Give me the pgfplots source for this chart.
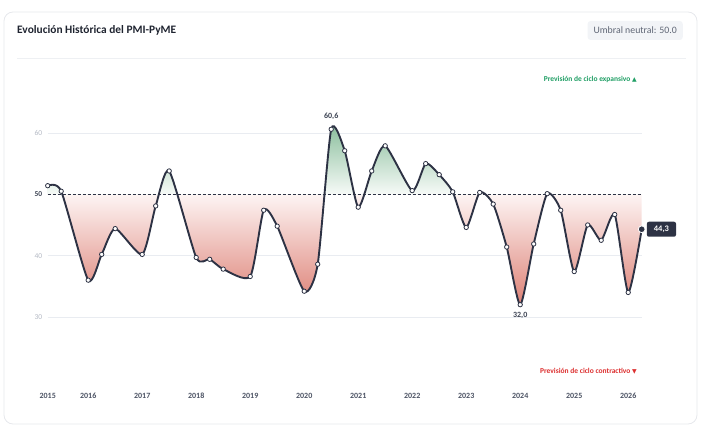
\documentclass[border=0pt]{standalone}
\usepackage{pgfplots}
\pgfplotsset{compat=1.18}
\usepackage{pgfplotstable}
\usepackage{fontspec}
\setmainfont{Carlito}
\newfontfamily\symfont{DejaVu Sans}
\definecolor{linec}{HTML}{2D3244}
\definecolor{gridc}{HTML}{E9ECF1}
\definecolor{ylabc}{HTML}{B4B9C4}
\definecolor{yearc}{HTML}{4B5263}
\definecolor{titlec}{HTML}{1F2430}
\definecolor{greenc}{HTML}{1F9E64}
\definecolor{redc}{HTML}{DC2F2F}
\definecolor{boxbg}{HTML}{F2F4F7}
\definecolor{boxtext}{HTML}{5F6675}
\definecolor{cardc}{HTML}{E6E8EC}
\definecolor{sepc}{HTML}{EEF0F3}
\definecolor{annc}{HTML}{3B4252}
\definecolor{greenhi}{HTML}{7FB893}
\definecolor{greenlo}{HTML}{F6FAF7}
\definecolor{redhi}{HTML}{DD8176}
\definecolor{redlo}{HTML}{FDF4F3}
\pgfdeclareverticalshading{pmishade}{100bp}{color(0bp)=(redhi); color(25bp)=(redhi); color(54.4bp)=(redlo); color(54.6bp)=(greenlo); color(75bp)=(greenhi); color(100bp)=(greenhi)}

\pgfplotstableread{
x y base
2015.25 51.4 50
2015.5 50.5 50
2016.0 36.0 50
2016.25 40.2 50
2016.5 44.4 50
2017.0 40.2 50
2017.25 48.1 50
2017.5 53.8 50
2018.0 39.7 50
2018.25 39.4 50
2018.5 37.8 50
2019.0 36.6 50
2019.25 47.4 50
2019.5 44.8 50
2020.0 34.2 50
2020.25 38.6 50
2020.5 60.6 50
2020.75 57.1 50
2021.0 47.9 50
2021.25 53.8 50
2021.5 57.9 50
2022.0 50.6 50
2022.25 55.0 50
2022.5 53.2 50
2022.75 50.4 50
2023.0 44.6 50
2023.25 50.3 50
2023.5 48.4 50
2023.75 41.4 50
2024.0 32.0 50
2024.25 41.9 50
2024.5 50.1 50
2024.75 47.4 50
2025.0 37.4 50
2025.25 45.0 50
2025.5 42.5 50
2025.75 46.7 50
2026.0 34.0 50
2026.25 44.3 50
}\pmidata

\begin{document}
\begin{tikzpicture}[x=1pt,y=1pt]
\draw[cardc, line width=0.8pt, rounded corners=9pt] (4,-12) rectangle (697,-424);
\node[anchor=west, font=\bfseries\fontsize{11.4}{13}\selectfont, text=titlec, inner sep=0pt] at (17,-30.5) {Evolución Histórica del PMI-PyME};
\node[fill=boxbg, rounded corners=3pt, anchor=east, font=\fontsize{9.8}{11}\selectfont, text=boxtext, minimum height=19pt, inner xsep=6pt] at (683,-30.5) {Umbral neutral: 50.0};
\draw[sepc, line width=0.8pt] (17,-58.5) -- (686,-58.5);
\node[anchor=east, font=\bfseries\fontsize{7.5}{9}\selectfont, text=greenc, inner sep=0pt] at (637,-79) {Previsión de ciclo expansivo {\symfont\fontsize{6}{7}\selectfont ▲}};
\node[anchor=east, font=\bfseries\fontsize{7.5}{9}\selectfont, text=redc, inner sep=0pt] at (637,-371) {Previsión de ciclo contractivo {\symfont\fontsize{6}{7}\selectfont ▼}};

\begin{axis}[
  at={(47.7pt,-378.3pt)}, anchor=south west,
  scale only axis, width=594pt, height=306.7pt,
  xmin=2015.25, xmax=2026.25, ymin=20, ymax=70,
  axis line style={draw=none}, major tick length=0pt,
  clip=false,
  xtick={2015.25,2016,2017,2018,2019,2020,2021,2022,2023,2024,2025,2026},
  xticklabels={2015,2016,2017,2018,2019,2020,2021,2022,2023,2024,2025,2026},
  xticklabel style={anchor=center, yshift=-17.7pt, font=\bfseries\fontsize{8}{9}\selectfont, text=yearc},
  ytick={30,40,60},
  yticklabels={30,40,60},
  yticklabel style={font=\fontsize{7.5}{9}\selectfont, text=ylabc, xshift=-2pt},
  ymajorgrids, grid style={gridc, line width=0.8pt},
  extra y ticks={50},
  extra y tick labels={\textbf{50}},
  extra y tick style={grid=none, yticklabel style={text=annc}},
]
\addplot[draw=none, forget plot, stack plots=y] table[x=x,y=base] {\pmidata};
\addplot[draw=none, forget plot, stack plots=y, smooth, tension=0.38, shade, shading=pmishade] table[x=x, y expr=\thisrow{y}-\thisrow{base}] {\pmidata} \closedcycle;
\addplot[linec, line width=0.8pt, dash pattern=on 3pt off 2pt, forget plot] coordinates {(2015.25,50) (2026.25,50)};
\addplot[linec, line width=1.9pt, smooth, tension=0.38, mark=*, mark size=2.2pt, mark options={fill=white, draw=linec, line width=0.8pt, solid}] table[x=x,y=y] {\pmidata};
\addplot[only marks, mark=*, mark size=3.4pt, mark options={fill=linec, draw=white, line width=0.8pt}] coordinates {(2026.25,44.3)};
\node[font=\bfseries\fontsize{8}{9}\selectfont, text=annc, anchor=center, yshift=13.3pt] at (axis cs:2020.5,60.6) {60,6};
\node[font=\bfseries\fontsize{8}{9}\selectfont, text=annc, anchor=center, yshift=-11pt] at (axis cs:2024,32.0) {32,0};
\node[anchor=west, xshift=5pt, fill=linec, rounded corners=2pt, text=white, font=\bfseries\fontsize{8.5}{10}\selectfont, minimum height=15pt, inner xsep=7pt] at (axis cs:2026.25,44.3) {44,3};
\end{axis}
\pgfresetboundingbox
\path (0,0) rectangle (702,-430);
\end{tikzpicture}
\end{document}
